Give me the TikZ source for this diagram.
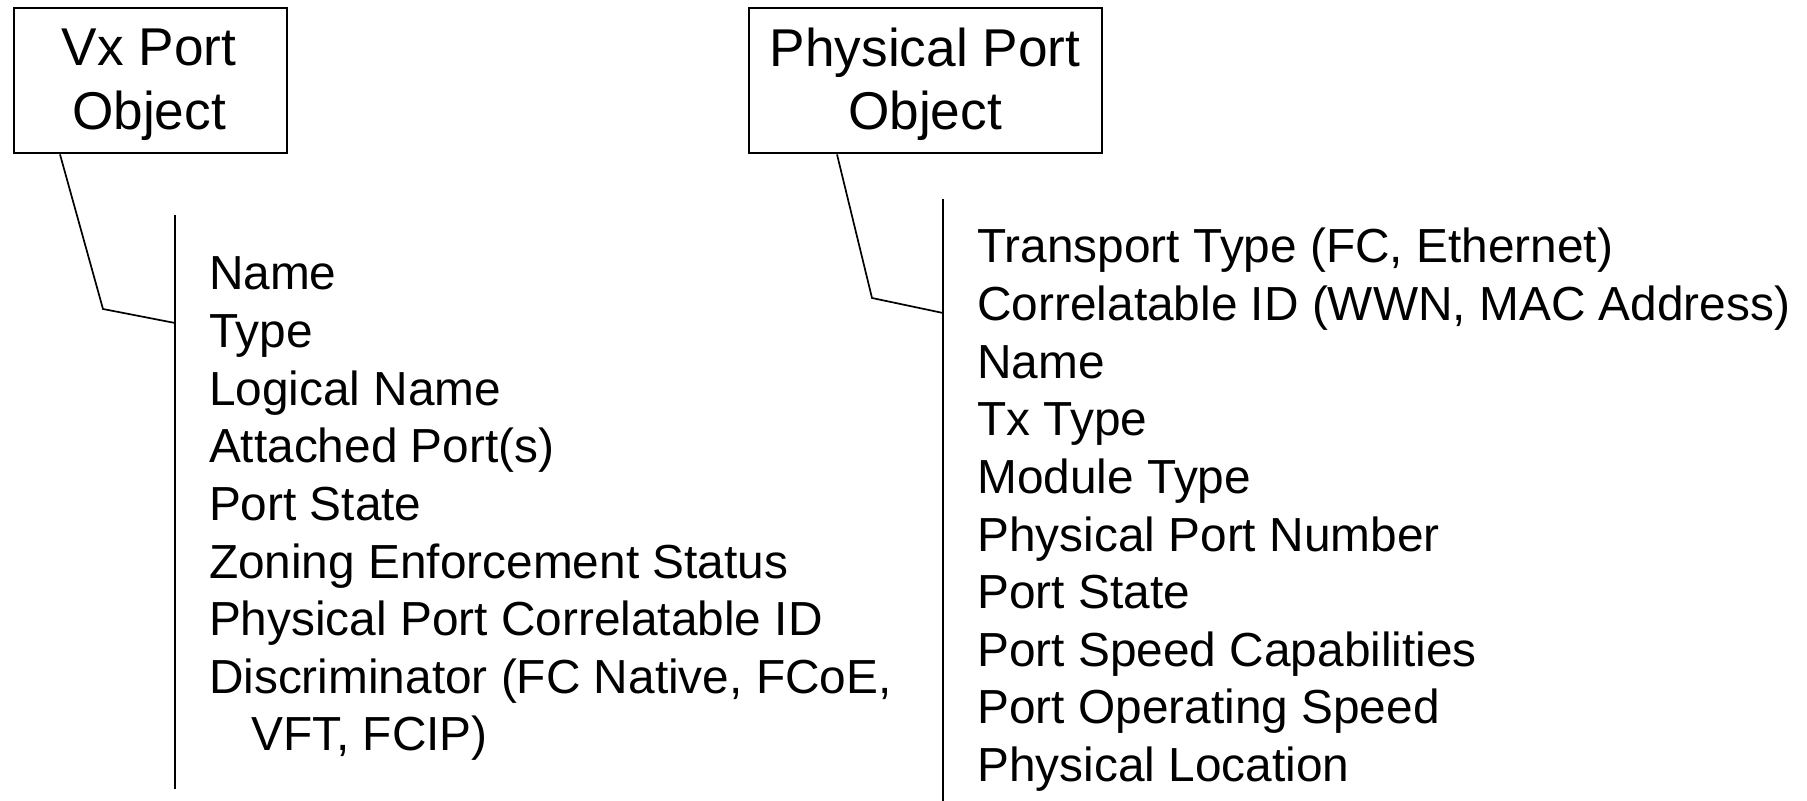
\documentclass[tikz,border=0pt]{standalone}
\usepackage{fontspec}
\setmainfont{Liberation Sans}
\begin{document}
\begin{tikzpicture}[x=0.5pt,y=-0.5pt,
  objbox/.style={draw, line width=1.2pt, inner sep=0pt, anchor=north west},
  boxtext/.style={inner sep=0pt, anchor=base, font=\fontsize{26.6pt}{31.75pt}\selectfont},
  item/.style={inner sep=0pt, anchor=base west, font=\fontsize{23.9pt}{28.8pt}\selectfont},
  conn/.style={line width=0.85pt, line join=miter},
  bar/.style={line width=1.15pt}]
\useasboundingbox (0,0) rectangle (1807,801);
% Vx Port Object
\node[objbox, minimum width=136.65pt, minimum height=72.5pt] (vx) at (12.7,7) {};
\node[boxtext] (vxt1) at (149,66) {Vx Port};
\node[boxtext] (vxt2) at (149,129.3) {Object};
\coordinate (vxtop) at (175,215);
\coordinate (vxbot) at (175,789);
\draw[bar] (vxtop) -- (vxbot);
\coordinate (vxbend) at (103,309);
\coordinate (vxend) at (175,323);
\draw[conn] ([xshift=23.65pt]vx.south west) -- (vxbend) -- (vxend);
\foreach \t [count=\i] in {Name, Type, Logical Name, Attached Port(s), Port State,
  Zoning Enforcement Status, Physical Port Correlatable ID, {Discriminator (FC Native, FCoE,}}
  \node[item] (vi\i) at (208.6,{290+57.6*(\i-1)}) {\t};
\node[item] (vi9) at (251,750.8) {VFT, FCIP)};
% Physical Port Object
\node[objbox, minimum width=176.3pt, minimum height=72.5pt] (pp) at (748,7) {};
\node[boxtext] (ppt1) at (925,66.7) {Physical Port};
\node[boxtext] (ppt2) at (925,129.3) {Object};
\coordinate (pptop) at (943,199);
\coordinate (ppbot) at (943,801);
\draw[bar] (pptop) -- (ppbot);
\coordinate (ppbend) at (872,298);
\coordinate (ppend) at (943,313);
\draw[conn] ([xshift=44.5pt]pp.south west) -- (ppbend) -- (ppend);
\foreach \t [count=\i] in {Transport Type (FC{,} Ethernet), Correlatable ID (WWN{,} MAC Address),
  Name, Tx Type, Module Type, Physical Port Number, Port State, Port Speed Capabilities,
  Port Operating Speed, Physical Location}
  \node[item] (pi\i) at (977,{263+57.6*(\i-1)}) {\t};
\end{tikzpicture}
\end{document}
